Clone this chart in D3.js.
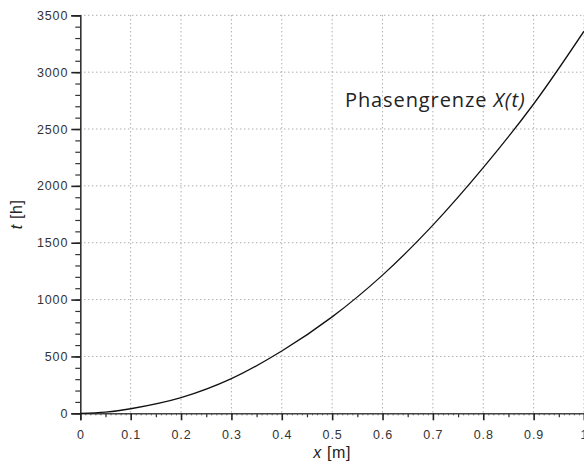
<!DOCTYPE html>
<html>
<head>
<meta charset="utf-8">
<script src="https://cdn.jsdelivr.net/npm/d3@7"></script>
<style>
  html, body { margin: 0; padding: 0; background: #fff; }
  svg { display: block; }
  .tick-label { font-family: "Liberation Sans", Arial, sans-serif; font-size: 12.5px; letter-spacing: 0.9px; fill: #333; }
  .axis-title { font-family: "Liberation Sans", Arial, sans-serif; font-size: 16px; letter-spacing: 0.6px; fill: #222; }
</style>
</head>
<body>
<div class="chart"></div>
<script>
// phase boundary position x [m] vs. time t [h]
const xValues = [0, 0.05, 0.1, 0.2, 0.3, 0.4, 0.5, 0.6, 0.7, 0.8, 0.9, 1.0];
const tValues = [0, 10, 40, 138, 305, 548, 848, 1215, 1655, 2160, 2720, 3360];
const xTicks = [0, 0.1, 0.2, 0.3, 0.4, 0.5, 0.6, 0.7, 0.8, 0.9, 1];
const yTicks = [0, 500, 1000, 1500, 2000, 2500, 3000, 3500];
const curveLabel = "Phasengrenze ";
const curveLabelItalic = "X(t)";

const width = 584, height = 463;
const margin = {top: 15.3, right: 0, bottom: 49.7, left: 80.3};
const innerW = width - margin.left - margin.right;
const innerH = height - margin.top - margin.bottom;

const svg = d3.select('.chart').append('svg')
    .attr('width', width)
    .attr('height', height);

const g = svg.append('g')
    .attr('transform', 'translate(' + margin.left + ',' + margin.top + ')');

const xScale = d3.scaleLinear().domain([0, 1]).range([0, innerW]);
const yScale = d3.scaleLinear().domain([0, 3500]).range([innerH, 0]);

// dotted grid
g.selectAll('.vgrid')
    .data(xTicks.filter(d => d > 0))
    .enter().append('line')
    .attr('x1', d => xScale(d)).attr('x2', d => xScale(d))
    .attr('y1', 0).attr('y2', innerH)
    .attr('stroke', '#8a8a8a').attr('stroke-width', 1)
    .attr('stroke-dasharray', '1,3');
g.selectAll('.hgrid')
    .data(yTicks.filter(d => d > 0))
    .enter().append('line')
    .attr('x1', 0).attr('x2', innerW)
    .attr('y1', d => yScale(d)).attr('y2', d => yScale(d))
    .attr('stroke', '#8a8a8a').attr('stroke-width', 1)
    .attr('stroke-dasharray', '1,3');

// x axis: small ticks every 0.01, medium every 0.05, major every 0.1
const xAxisG = g.append('g').attr('transform', 'translate(0,' + innerH + ')');
xAxisG.append('g').call(d3.axisBottom(xScale).tickValues(d3.range(0, 101).map(i => i / 100)).tickSize(2).tickFormat(''))
    .call(s => s.select('.domain').remove())
    .selectAll('line').attr('stroke', '#555');
xAxisG.append('g').call(d3.axisBottom(xScale).tickValues([0.05, 0.15, 0.25, 0.35, 0.45, 0.55, 0.65, 0.75, 0.85, 0.95]).tickSize(4).tickFormat(''))
    .call(s => s.select('.domain').remove())
    .selectAll('line').attr('stroke', '#333').attr('stroke-width', 1.2);
const xMain = xAxisG.append('g').call(d3.axisBottom(xScale).tickValues(xTicks).tickSize(7).tickPadding(10)
        .tickFormat(d => d === 0 ? '0' : (d === 1 ? '1' : d3.format('.1f')(d))));
xMain.select('.domain').attr('stroke', '#444').attr('stroke-width', 1.5);
xMain.selectAll('line').attr('stroke', '#222').attr('stroke-width', 1.6);
xMain.selectAll('text').attr('class', 'tick-label').attr('fill', null);

// y axis: minor ticks every 100, major every 500
const yAxisG = g.append('g');
yAxisG.append('g').call(d3.axisLeft(yScale).tickValues(d3.range(0, 3501, 100)).tickSize(5).tickFormat(''))
    .call(s => s.select('.domain').remove())
    .selectAll('line').attr('stroke', '#333').attr('stroke-width', 1.2);
const yMain = yAxisG.append('g').call(d3.axisLeft(yScale).tickValues(yTicks).tickSize(9).tickPadding(3)
        .tickFormat(d3.format('d')));
yMain.select('.domain').attr('stroke', '#333').attr('stroke-width', 1.6);
yMain.selectAll('line').attr('stroke', '#222').attr('stroke-width', 1.6);
yMain.selectAll('text').attr('class', 'tick-label').attr('fill', null);

// curve
const line = d3.line()
    .x((d, i) => xScale(d))
    .y((d, i) => yScale(tValues[i]))
    .curve(d3.curveCatmullRom.alpha(0.5));
g.append('path')
    .datum(xValues)
    .attr('d', line)
    .attr('fill', 'none')
    .attr('stroke', '#111')
    .attr('stroke-width', 1.3);

// annotation
const ann = svg.append('text')
    .attr('x', 345)
    .attr('y', 107)
    .attr('font-family', '"Open Sans", "Noto Sans", sans-serif')
    .attr('font-size', 20)
    .attr('letter-spacing', 0.9)
    .attr('fill', '#222');
ann.append('tspan').text(curveLabel);
ann.append('tspan').attr('font-style', 'italic').text(curveLabelItalic);

// axis titles
const xt = svg.append('text').attr('class', 'axis-title')
    .attr('x', margin.left + xScale(0.5)).attr('y', 458)
    .attr('text-anchor', 'middle');
xt.append('tspan').attr('font-style', 'italic').text('x');
xt.append('tspan').text(' [m]');

const yt = svg.append('text').attr('class', 'axis-title')
    .attr('transform', 'translate(22,' + (margin.top + innerH / 2) + ') rotate(-90)')
    .attr('text-anchor', 'middle');
yt.append('tspan').attr('font-style', 'italic').text('t');
yt.append('tspan').text(' [h]');
</script>
</body>
</html>
